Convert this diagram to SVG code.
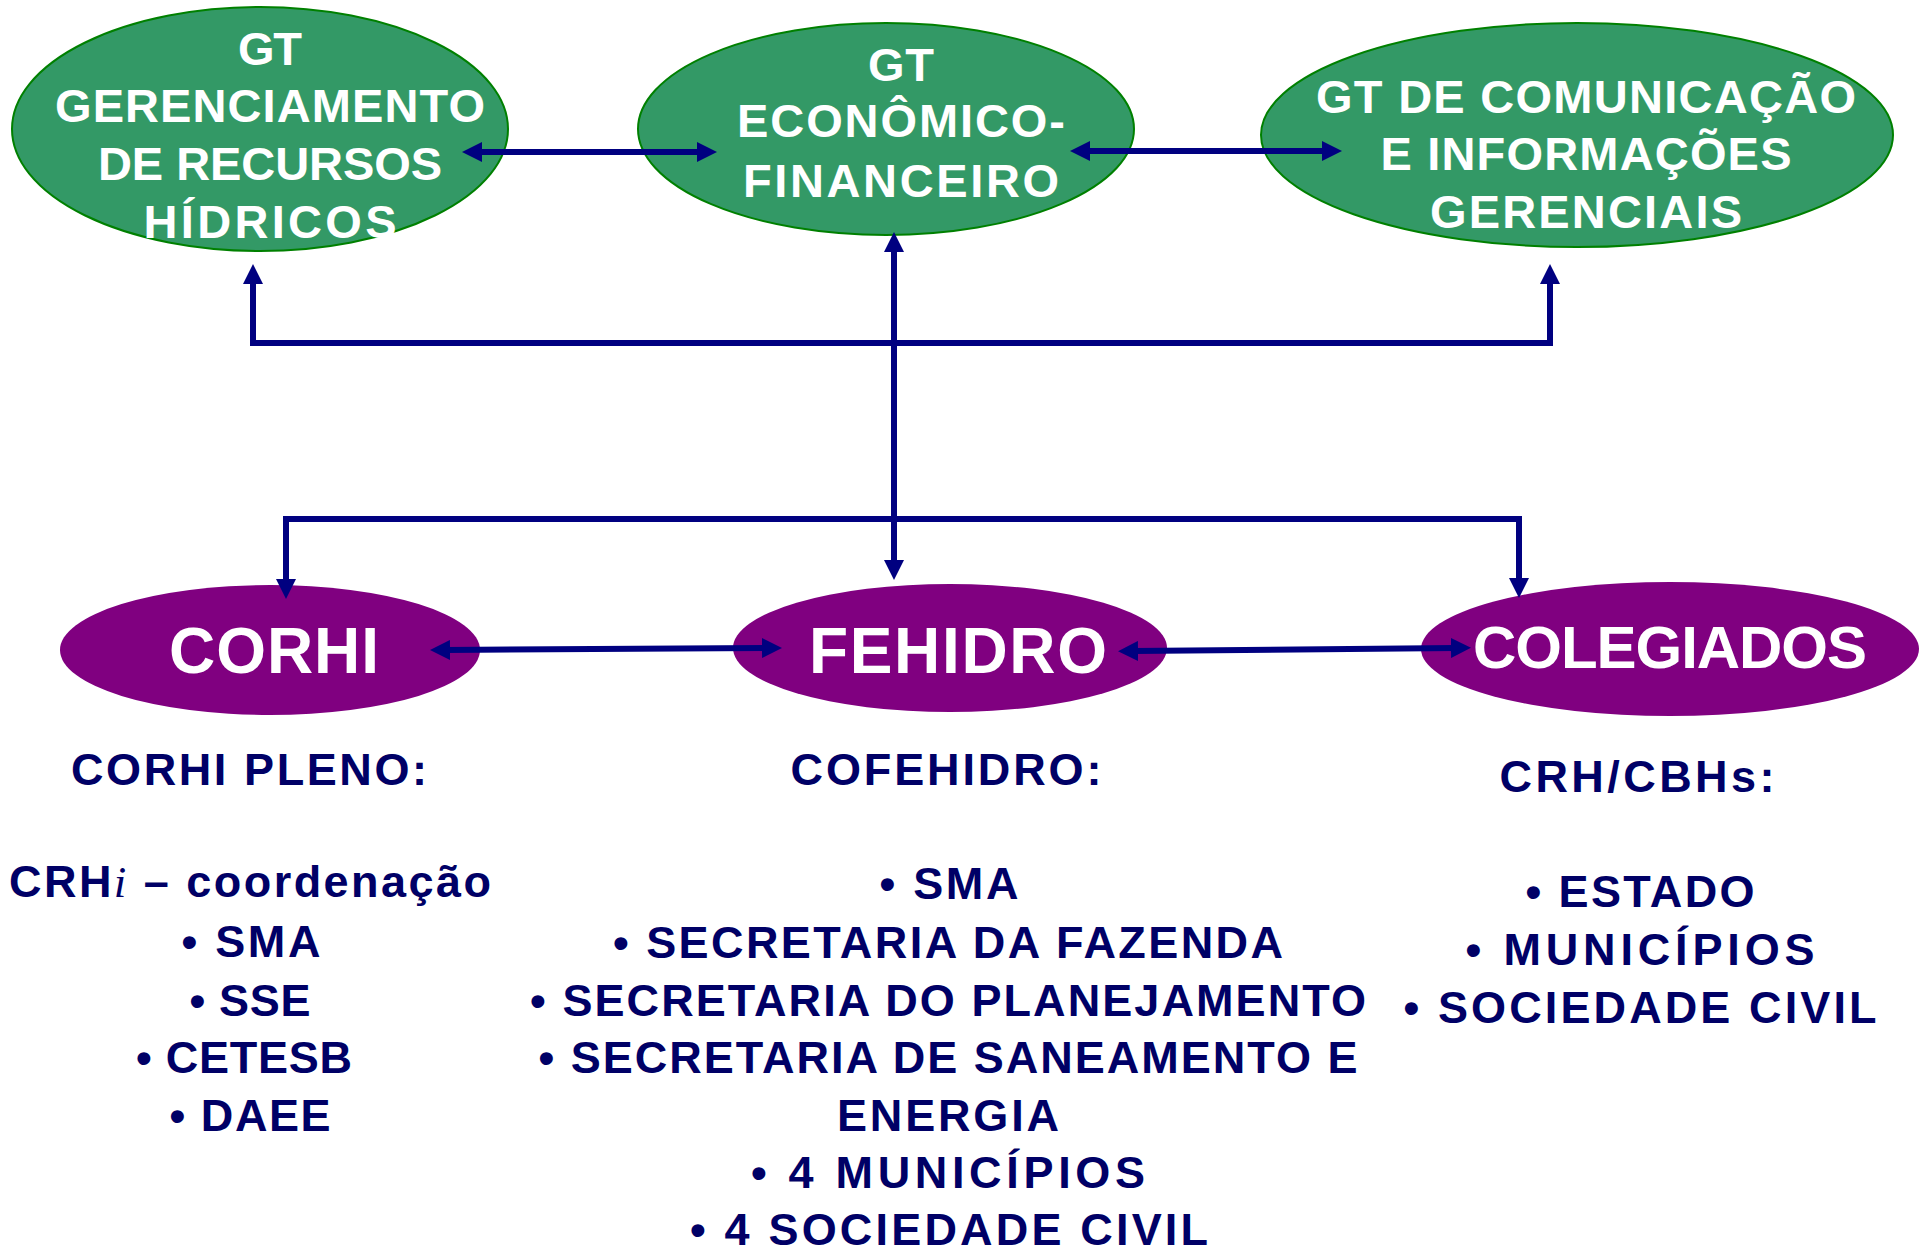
<svg xmlns="http://www.w3.org/2000/svg" width="1924" height="1248" viewBox="0 0 1924 1248">
<style>
.gt{fill:#339966;stroke:#008000;stroke-width:2}
.pu{fill:#800080;stroke:none}
.wt{font-family:"Liberation Sans",Arial,sans-serif;font-weight:bold;fill:#ffffff;text-anchor:middle}
.g{font-size:47px}
.p{font-size:64px}
.bt{font-family:"Liberation Sans",Arial,sans-serif;font-weight:bold;font-size:45px;fill:#000066;text-anchor:middle}
.cn{fill:none;stroke:#000080;stroke-width:6}
</style>
<defs>
<marker id="ah" markerUnits="userSpaceOnUse" markerWidth="20" markerHeight="20" refX="4" refY="10" orient="auto-start-reverse" viewBox="0 0 20 20">
<path d="M0,0 L20,10 L0,20 z" fill="#000080"/>
</marker>
</defs>
<rect width="1924" height="1248" fill="#ffffff"/>

<g id="gt-gerenciamento">
<ellipse class="gt" cx="260" cy="129" rx="248" ry="122"/>
<text class="wt g" x="270" y="65" textLength="64" lengthAdjust="spacing">GT</text>
<text class="wt g" x="270" y="122" textLength="430" lengthAdjust="spacing">GERENCIAMENTO</text>
<text class="wt g" x="270" y="180" textLength="344" lengthAdjust="spacing">DE RECURSOS</text>
<text class="wt g" x="270" y="238" textLength="253" lengthAdjust="spacing">HÍDRICOS</text>
</g>

<g id="gt-economico">
<ellipse class="gt" cx="886" cy="129" rx="248" ry="106"/>
<text class="wt g" x="901" y="81" textLength="66" lengthAdjust="spacing">GT</text>
<text class="wt g" x="901" y="137" textLength="328" lengthAdjust="spacing">ECONÔMICO-</text>
<text class="wt g" x="901" y="197" textLength="316" lengthAdjust="spacing">FINANCEIRO</text>
</g>

<g id="gt-comunicacao">
<ellipse class="gt" cx="1577" cy="135" rx="316" ry="112"/>
<text class="wt g" x="1586" y="113" textLength="540" lengthAdjust="spacing">GT DE COMUNICAÇÃO</text>
<text class="wt g" x="1586" y="170" textLength="411" lengthAdjust="spacing">E INFORMAÇÕES</text>
<text class="wt g" x="1586" y="228" textLength="312" lengthAdjust="spacing">GERENCIAIS</text>
</g>

<g id="corhi">
<ellipse class="pu" cx="270" cy="650" rx="210" ry="65"/>
<text class="wt p" x="274" y="673" textLength="210" lengthAdjust="spacing">CORHI</text>
</g>

<g id="fehidro">
<ellipse class="pu" cx="950" cy="648" rx="217" ry="64"/>
<text class="wt p" x="958" y="673" textLength="298" lengthAdjust="spacing">FEHIDRO</text>
</g>

<g id="colegiados">
<ellipse class="pu" cx="1670" cy="649" rx="249" ry="67"/>
<text class="wt" font-size="60" x="1670" y="668" textLength="394" lengthAdjust="spacing">COLEGIADOS</text>
</g>

<g id="corhi-pleno">
<text class="bt" x="249" y="785" textLength="356" lengthAdjust="spacing">CORHI PLENO:</text>
<text class="bt" x="250" y="897" textLength="482" lengthAdjust="spacing">CRH<tspan font-family="'Liberation Serif',serif" font-style="italic" font-weight="normal">i</tspan> – coordenação</text>
<text class="bt" x="251" y="957" textLength="139" lengthAdjust="spacing">• SMA</text>
<text class="bt" x="250" y="1016" textLength="121" lengthAdjust="spacing">• SSE</text>
<text class="bt" x="244" y="1073" textLength="216" lengthAdjust="spacing">• CETESB</text>
<text class="bt" x="250" y="1131" textLength="161" lengthAdjust="spacing">• DAEE</text>
</g>

<g id="cofehidro">
<text class="bt" x="946" y="785" textLength="311" lengthAdjust="spacing">COFEHIDRO:</text>
<text class="bt" x="949" y="899" textLength="139" lengthAdjust="spacing">• SMA</text>
<text class="bt" x="948" y="958" textLength="670" lengthAdjust="spacing">• SECRETARIA DA FAZENDA</text>
<text class="bt" x="948" y="1016" textLength="836" lengthAdjust="spacing">• SECRETARIA DO PLANEJAMENTO</text>
<text class="bt" x="948" y="1073" textLength="819" lengthAdjust="spacing">• SECRETARIA DE SANEAMENTO E</text>
<text class="bt" x="948" y="1131" textLength="222" lengthAdjust="spacing">ENERGIA</text>
<text class="bt" x="948" y="1188" textLength="394" lengthAdjust="spacing">• 4 MUNICÍPIOS</text>
<text class="bt" x="949" y="1245" textLength="518" lengthAdjust="spacing">• 4 SOCIEDADE CIVIL</text>
</g>

<g id="crh-cbhs">
<text class="bt" x="1637" y="792" textLength="275" lengthAdjust="spacing">CRH/CBHs:</text>
<text class="bt" x="1640" y="907" textLength="229" lengthAdjust="spacing">• ESTADO</text>
<text class="bt" x="1640" y="965" textLength="349" lengthAdjust="spacing">• MUNICÍPIOS</text>
<text class="bt" x="1640" y="1023" textLength="473" lengthAdjust="spacing">• SOCIEDADE CIVIL</text>
</g>

<g id="connectors">
<path class="cn" d="M478,152 L701,152" marker-start="url(#ah)" marker-end="url(#ah)"/>
<path class="cn" d="M1086,151 L1326,151" marker-start="url(#ah)" marker-end="url(#ah)"/>
<path class="cn" d="M253,280 L253,343 L1550,343 L1550,280" marker-start="url(#ah)" marker-end="url(#ah)"/>
<path class="cn" d="M894,248 L894,564" marker-start="url(#ah)" marker-end="url(#ah)"/>
<path class="cn" d="M286,583 L286,519 L1519,519 L1519,582" marker-start="url(#ah)" marker-end="url(#ah)"/>
<path class="cn" d="M446,650 L766,648" marker-start="url(#ah)" marker-end="url(#ah)"/>
<path class="cn" d="M1134,651 L1455,648" marker-start="url(#ah)" marker-end="url(#ah)"/>
</g>
</svg>
